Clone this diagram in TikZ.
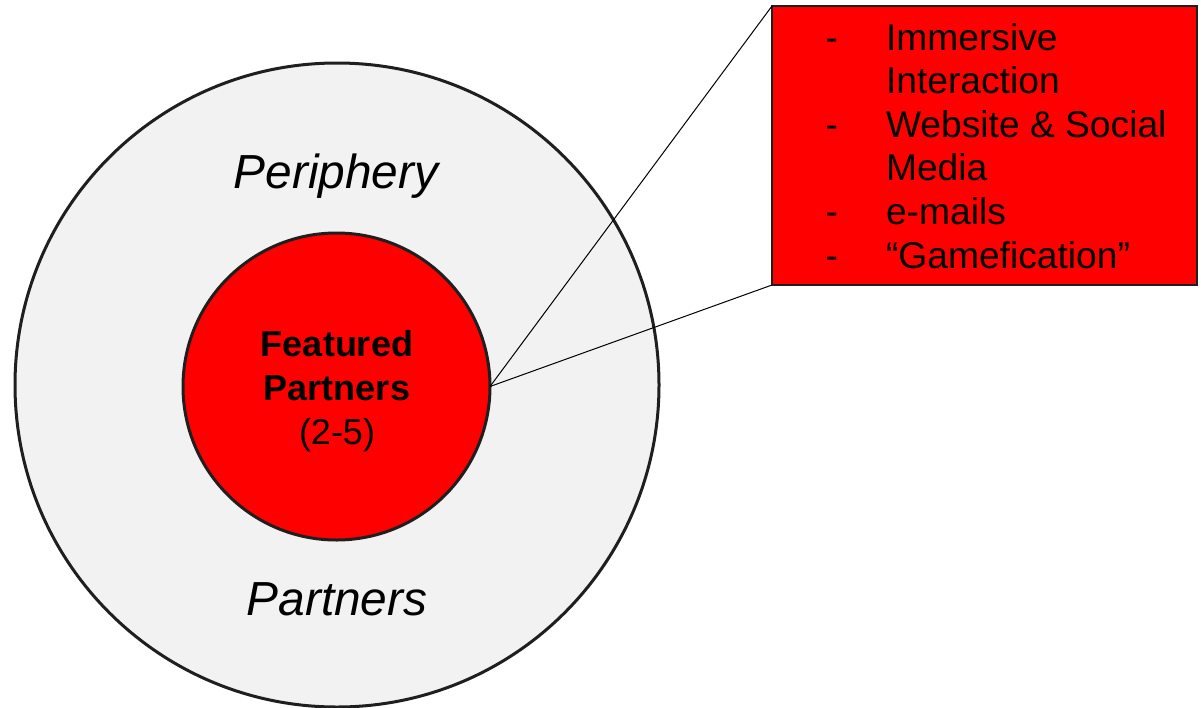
\documentclass[tikz,border=0pt]{standalone}
\usepackage{fontspec}
\setmainfont{Liberation Sans}
\definecolor{ringfill}{HTML}{F2F2F2}
\definecolor{edgecol}{HTML}{1F1F1F}
\begin{document}
\begin{tikzpicture}[x=1pt,y=-1pt,
  every node/.style={inner sep=0pt, outer sep=0pt},
  disc/.style={circle, draw=edgecol, line width=3pt},
  listtext/.style={anchor=base west, font=\fontsize{37.2}{43.6}\selectfont},
  centertext/.style={anchor=base, font=\fontsize{36}{44}\selectfont},
  bigitalic/.style={anchor=base, font=\fontsize{47.8}{50}\selectfont\itshape},
  link/.style={draw=black, line width=1pt}]
\useasboundingbox (0,0) rectangle (1201,707);
\node[disc, fill=ringfill, minimum size=644pt] (outer) at (337,385) {};
\node[disc, fill=red, minimum size=307pt] (inner) at (336.5,386.5) {};
\node[rectangle, draw=edgecol, line width=2.5pt, fill=red, minimum width=425pt, minimum height=279pt] (box) at (984.5,145.5) {};
\draw[link] (inner.east) -- (box.north west);
\draw[link] (inner.east) -- (box.south west);

\node[bigitalic] (periphery) at (336,188) {Periphery};
\node[bigitalic] (partners) at (337,615) {Partners};

\node[centertext] (feat1) at (337,356) {\bfseries Featured};
\node[centertext] (feat2) at (337,400) {\bfseries Partners};
\node[centertext] (feat3) at (337,444) {(2-5)};

\node[listtext] (d1) at (825.5,50) {-};
\node[listtext] (t1) at (886,50) {Immersive};
\node[listtext] (t2) at (886,93.6) {Interaction};
\node[listtext] (d2) at (825.5,137.2) {-};
\node[listtext] (t3) at (886,137.2) {Website \& Social};
\node[listtext] (t4) at (886,180.8) {Media};
\node[listtext] (d3) at (825.5,224.4) {-};
\node[listtext] (t5) at (886,224.4) {e-mails};
\node[listtext] (d4) at (825.5,268) {-};
\node[listtext] (t6) at (886,268) {“Gamefication”};
\end{tikzpicture}
\end{document}
